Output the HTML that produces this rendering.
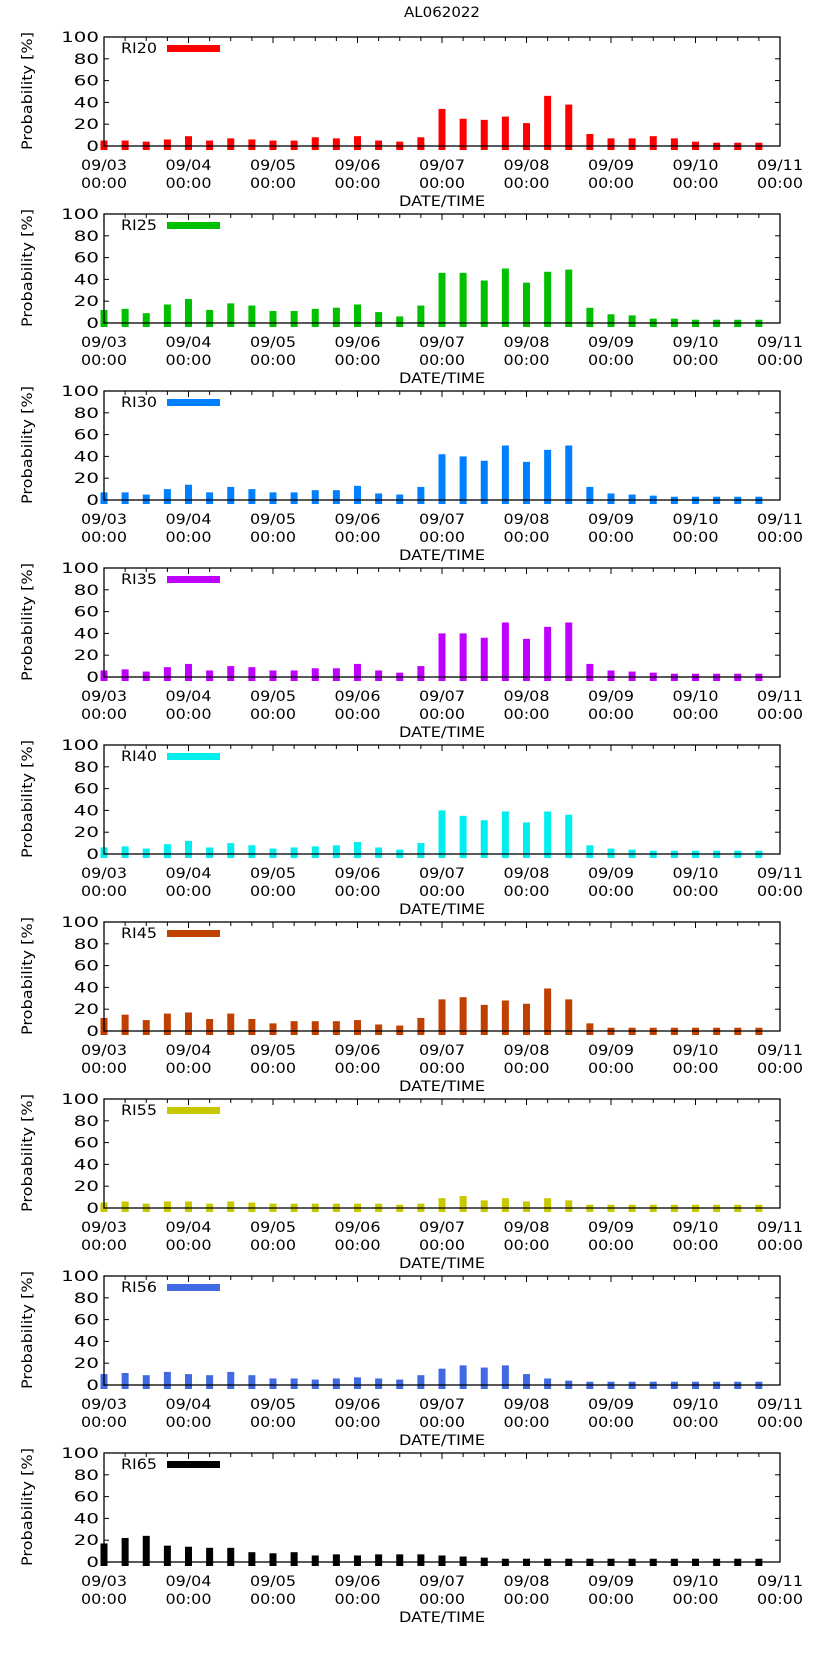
<!DOCTYPE html>
<html><head><meta charset="utf-8"><style>
html,body{margin:0;padding:0;background:#fff;}
svg{display:block;}
text{font-family:"DejaVu Sans","Liberation Sans",sans-serif;fill:#000;}
</style></head>
<body>
<svg id="chart" width="822" height="1653" viewBox="0 0 822 1653" xmlns="http://www.w3.org/2000/svg">
<text x="442" y="17" text-anchor="middle" font-size="14" textLength="76" lengthAdjust="spacingAndGlyphs">AL062022</text>
</svg>
<script>
const seriesNames = ["RI20","RI25","RI30","RI35","RI40","RI45","RI55","RI56","RI65"];
const seriesColors = ["#ff0000","#00c000","#0080ff","#c000ff","#00eeee","#c04000","#c8c800","#4169e1","#000000"];
const ri20 = [5,5,4,6,9,5,7,6,5,5,8,7,9,5,4,8,34,25,24,27,21,46,38,11,7,7,9,7,4,3,3,3];
const ri25 = [12,13,9,17,22,12,18,16,11,11,13,14,17,10,6,16,46,46,39,50,37,47,49,14,8,7,4,4,3,3,3,3];
const ri30 = [7,7,5,10,14,7,12,10,7,7,9,9,13,6,5,12,42,40,36,50,35,46,50,12,6,5,4,3,3,3,3,3];
const ri35 = [6,7,5,9,12,6,10,9,6,6,8,8,12,6,4,10,40,40,36,50,35,46,50,12,6,5,4,3,3,3,3,3];
const ri40 = [6,7,5,9,12,6,10,8,5,6,7,8,11,6,4,10,40,35,31,39,29,39,36,8,5,4,3,3,3,3,3,3];
const ri45 = [12,15,10,16,17,11,16,11,7,9,9,9,10,6,5,12,29,31,24,28,25,39,29,7,3,3,3,3,3,3,3,3];
const ri55 = [5,6,4,6,6,4,6,5,4,4,4,4,4,4,3,4,9,11,7,9,6,9,7,3,3,3,3,3,3,3,3,3];
const ri56 = [10,11,9,12,10,9,12,9,6,6,5,6,7,6,5,9,15,18,16,18,10,6,4,3,3,3,3,3,3,3,3,3];
const ri65 = [17,22,24,15,14,13,13,9,8,9,6,7,6,7,7,7,6,5,4,3,3,3,3,3,3,3,3,3,3,3,3,3];
const seriesValues = [ri20,ri25,ri30,ri35,ri40,ri45,ri55,ri56,ri65];
const dayLabels = ["09/03","09/04","09/05","09/06","09/07","09/08","09/09","09/10","09/11"];
const yTicks = [0,20,40,60,80,100];

const NS="http://www.w3.org/2000/svg";
const svg=document.getElementById('chart');
const L=104, R=780, PH=109, GAP=177, TOP0=37;
const hoursSpan=192;
function xScale(h){return L+(R-L)*h/hoursSpan;}
function mk(tag,attrs,parent){const e=document.createElementNS(NS,tag);for(const k in attrs)e.setAttribute(k,attrs[k]);(parent||svg).appendChild(e);return e;}

seriesNames.forEach((name,i)=>{
  const top=TOP0+GAP*i, zero=top+PH;
  const yScale=v=>zero-v*PH/100;
  const g=mk('g',{});
  
  
  // top x ticks
  for(let h=0;h<=hoursSpan;h+=6){
    const x=xScale(h), len=(h%24===0)?6:4;
    mk('line',{x1:x,x2:x,y1:top,y2:top+len,stroke:'#000','stroke-width':1},g);
  }
  // bars
  seriesValues[i].forEach((v,k)=>{
    const x=xScale(k*6);
    const y=yScale(v);
    const r=mk('rect',{x:x-3.5,y:y,width:7,height:zero+4-y,fill:seriesColors[i]},g);
    
    
  });
  // frame
  const fr=mk('rect',{x:L,y:top,width:R-L,height:PH,fill:'none',stroke:'#000','stroke-width':1.3},g);
  
  
  // y ticks
  yTicks.forEach(t=>{
    const y=yScale(t);
    mk('line',{x1:L,x2:L+5,y1:y,y2:y,stroke:'#000','stroke-width':1},g);
    mk('line',{x1:R,x2:R-5,y1:y,y2:y,stroke:'#000','stroke-width':1},g);
    const tx=mk('text',{x:99,y:y+5,'text-anchor':'end','font-size':14,textLength:String(t).length*12.6,lengthAdjust:'spacingAndGlyphs'},g);
    tx.textContent=t;
    
    
  });
  dayLabels.forEach((d,k)=>{
    const x=xScale(k*24);
    const t1=mk('text',{x:x,y:zero+24,'text-anchor':'middle','font-size':14,textLength:46,lengthAdjust:'spacingAndGlyphs'},g);
    t1.textContent=d;
    
    
    const t2=mk('text',{x:x,y:zero+42,'text-anchor':'middle','font-size':14,textLength:46,lengthAdjust:'spacingAndGlyphs'},g);
    t2.textContent='00:00';
    
    
  });
  const xt=mk('text',{x:442,y:zero+60,'text-anchor':'middle','font-size':14,textLength:86,lengthAdjust:'spacingAndGlyphs'},g);
  xt.textContent='DATE/TIME';
  
  
  const yt=mk('text',{x:0,y:0,'text-anchor':'middle','font-size':14,textLength:118,lengthAdjust:'spacingAndGlyphs',transform:'translate(32,'+(top+54)+') rotate(-90)'},g);
  yt.textContent='Probability [%]';
  
  
  // legend
  const lt=mk('text',{x:121,y:top+16,'font-size':14,textLength:36,lengthAdjust:'spacingAndGlyphs'},g);
  lt.textContent=name;
  
  
  const ls=mk('rect',{x:167,y:top+8,width:53,height:7,fill:seriesColors[i]},g);
  
  
});
</script>
</body></html>
